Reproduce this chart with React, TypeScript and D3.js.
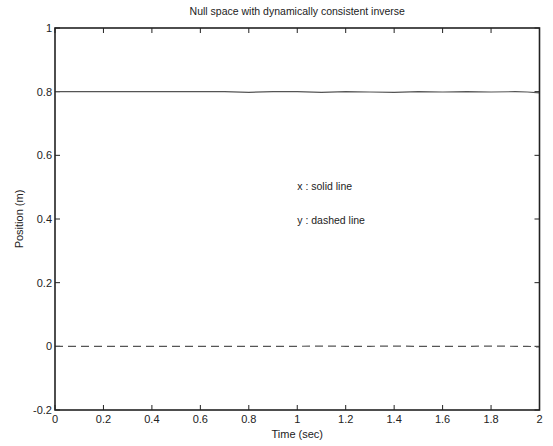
import { useEffect, useRef } from "react";
import * as d3 from "d3";

// sample times (sec)
const times = [0, 0.1, 0.2, 0.3, 0.4, 0.5, 0.6, 0.7, 0.8, 0.9, 1.0, 1.1, 1.2, 1.3, 1.4, 1.5, 1.6, 1.7, 1.8, 1.9, 1.95, 2.0];
// x position (solid line)
const xPos = [0.8, 0.8, 0.8, 0.8, 0.8, 0.8, 0.8, 0.8, 0.798, 0.8, 0.8, 0.798, 0.8, 0.799, 0.798, 0.8, 0.799, 0.8, 0.799, 0.8, 0.799, 0.796];
// y position (dashed line)
const yPos = [0, 0, 0, 0, 0, 0, 0, 0, 0, 0, 0, 0.001, 0, 0, 0.001, 0, 0, 0, 0.001, 0, 0, -0.002];

const xTicks = [0, 0.2, 0.4, 0.6, 0.8, 1, 1.2, 1.4, 1.6, 1.8, 2];
const yTicks = [-0.2, 0, 0.2, 0.4, 0.6, 0.8, 1];

const W = 553;
const H = 446;
const left = 55;
const right = 539.5;
const top = 28;
const bottom = 410;
const font = "'Liberation Sans', Arial, sans-serif";

function App() {
    const svgRef = useRef<SVGSVGElement>(null);

    useEffect(() => {
        const svg = d3.select(svgRef.current);
        svg.selectAll("*").remove();

        const x = d3.scaleLinear().domain([0, 2]).range([left, right]);
        const y = d3.scaleLinear().domain([-0.2, 1]).range([bottom, top]);

        svg.append("rect").attr("width", W).attr("height", H).attr("fill", "white");

        // ticks on all four sides, pointing inward
        const tk = 5;
        const g = svg.append("g").attr("stroke", "#222").attr("stroke-width", 1);
        xTicks.forEach((t) => {
            g.append("line").attr("x1", x(t)).attr("x2", x(t)).attr("y1", bottom).attr("y2", bottom - tk);
            g.append("line").attr("x1", x(t)).attr("x2", x(t)).attr("y1", top).attr("y2", top + tk);
        });
        yTicks.forEach((t) => {
            g.append("line").attr("x1", left).attr("x2", left + tk).attr("y1", y(t)).attr("y2", y(t));
            g.append("line").attr("x1", right).attr("x2", right - tk).attr("y1", y(t)).attr("y2", y(t));
        });

        // data lines
        const line = d3
            .line<number>()
            .x((_, i) => x(times[i]))
            .y((d) => y(d));

        svg.append("path")
            .datum(xPos)
            .attr("d", line)
            .attr("fill", "none")
            .attr("stroke", "#555")
            .attr("stroke-width", 1.2);

        svg.append("path")
            .datum(yPos)
            .attr("d", line)
            .attr("fill", "none")
            .attr("stroke", "#555")
            .attr("stroke-width", 1.2)
            .attr("stroke-dasharray", "8,5");

        // box
        svg.append("rect")
            .attr("x", left)
            .attr("y", top)
            .attr("width", right - left)
            .attr("height", bottom - top)
            .attr("fill", "none")
            .attr("stroke", "#222")
            .attr("stroke-width", 1.6);

        // tick labels
        const lab = svg.append("g").attr("font-family", font).attr("font-size", 11).attr("fill", "#222");
        xTicks.forEach((t) => {
            lab.append("text")
                .attr("x", x(t))
                .attr("y", bottom + 13)
                .attr("text-anchor", "middle")
                .text(String(t));
        });
        yTicks.forEach((t) => {
            lab.append("text")
                .attr("x", left - 3)
                .attr("y", y(t) + 4)
                .attr("text-anchor", "end")
                .text(String(t));
        });

        // title and axis labels
        svg.append("text")
            .attr("x", (left + right) / 2)
            .attr("y", 15)
            .attr("text-anchor", "middle")
            .attr("font-family", font)
            .attr("font-size", 10.5)
            .attr("fill", "#222")
            .text("Null space with dynamically consistent inverse");

        svg.append("text")
            .attr("x", (left + right) / 2)
            .attr("y", 438)
            .attr("text-anchor", "middle")
            .attr("font-family", font)
            .attr("font-size", 11)
            .attr("fill", "#222")
            .text("Time (sec)");

        svg.append("text")
            .attr("transform", `translate(23, ${(top + bottom) / 2}) rotate(-90)`)
            .attr("text-anchor", "middle")
            .attr("font-family", font)
            .attr("font-size", 11)
            .attr("fill", "#222")
            .text("Position (m)");

        // annotations
        svg.append("text")
            .attr("x", x(1))
            .attr("y", y(0.49))
            .attr("font-family", font)
            .attr("font-size", 10.5)
            .attr("fill", "#222")
            .text("x : solid line");

        svg.append("text")
            .attr("x", x(1))
            .attr("y", y(0.385))
            .attr("font-family", font)
            .attr("font-size", 10.5)
            .attr("fill", "#222")
            .text("y : dashed line");
    }, []);

    return (
        <svg
            ref={svgRef}
            width={W}
            height={H}
            style={{ position: "absolute", left: 0, top: 0 }}
        ></svg>
    );
}

export default App;
